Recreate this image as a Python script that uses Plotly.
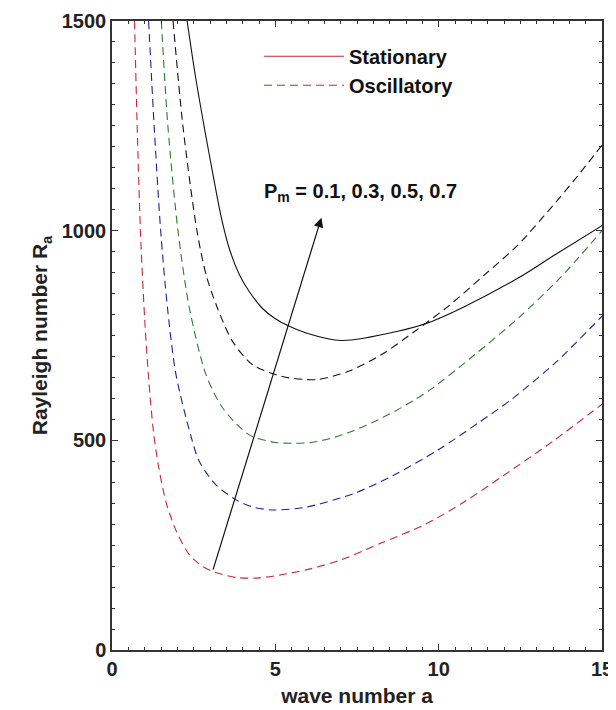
import plotly.graph_objects as go

# wave number a / Rayleigh number Ra
a_red = [0.69, 0.77, 0.87, 1.0, 1.13, 1.27, 1.42, 1.65, 1.96, 2.37, 2.78, 3.13, 3.80, 4.51, 5.22, 5.94, 7.02, 8.24, 9.57, 10.8, 12.02, 13.5, 15]
R_red = [1500, 1250, 1000, 790, 640, 520, 440, 354, 285, 227, 199, 186, 173, 172, 180, 191, 215, 255, 299, 354, 418, 498, 586]

a_blue = [1.12, 1.29, 1.49, 1.70, 1.96, 2.40, 2.67, 3.18, 3.80, 4.31, 4.92, 5.9, 7.43, 8.65, 9.98, 11.2, 12.22, 13.6, 15]
R_blue = [1500, 1250, 1000, 815, 656, 515, 450, 394, 358, 341, 334, 340, 374, 418, 477, 541, 597, 687, 796]

a_green = [1.51, 1.71, 2.02, 2.37, 2.88, 3.39, 4.20, 5.0, 5.6, 6.1, 6.71, 7.33, 8.04, 8.65, 9.27, 9.77, 11.1, 12.43, 13.7, 15]
R_green = [1500, 1250, 1000, 815, 656, 577, 513, 495, 493, 495, 505, 521, 545, 569, 597, 622, 704, 791, 886, 1000]

a_osc_black = [1.87, 2.17, 2.6, 2.88, 3.23, 3.69, 4.31, 5.22, 5.94, 6.31, 7.22, 8.24, 9.27, 10.28, 11.41, 12.43, 13.5, 14.25, 15]
R_osc_black = [1500, 1250, 1000, 895, 815, 736, 680, 652, 645, 645, 664, 704, 760, 819, 895, 966, 1060, 1130, 1204]

a_stat = [2.30, 2.55, 2.84, 3.1, 3.35, 3.6, 3.9, 4.2, 4.6, 5.0, 5.4, 5.94, 7.02, 8.75, 9.77, 10.8, 12.5, 13.55, 15]
R_stat = [1500, 1370, 1240, 1130, 1030, 955, 895, 855, 815, 790, 773, 756, 738, 760, 783, 819, 890, 942, 1012]

arrow_tail = (3.08, 188)
arrow_head = (6.41, 1031)

x_ticks = [0, 5, 10, 15]
y_ticks = [0, 500, 1000, 1500]

FONT = "Liberation Sans, Arial, sans-serif"
RED = "#c8282e"
BLUE = "#1f1f9c"
GREEN = "#2a7d2a"
BLACK = "#111111"
DASH = "8px,5px"

fig = go.Figure()

def curve(x, y, color, dash):
    fig.add_trace(go.Scatter(x=x, y=y, mode="lines", showlegend=False,
                             line=dict(color=color, width=1.1, dash=dash, shape="spline", smoothing=0.8),
                             hoverinfo="skip"))

curve(a_red, R_red, RED, DASH)
curve(a_blue, R_blue, BLUE, DASH)
curve(a_green, R_green, GREEN, DASH)
curve(a_osc_black, R_osc_black, BLACK, DASH)
curve(a_stat, R_stat, BLACK, "solid")

# legend entries
fig.add_trace(go.Scatter(x=[None], y=[None], mode="lines", name="Stationary",
                         line=dict(color=RED, width=1.1)))
fig.add_trace(go.Scatter(x=[None], y=[None], mode="lines", name="Oscillatory",
                         line=dict(color=RED, width=1.1, dash=DASH)))

fig.add_annotation(x=arrow_head[0], y=arrow_head[1], ax=arrow_tail[0], ay=arrow_tail[1],
                   xref="x", yref="y", axref="x", ayref="y", text="", showarrow=True,
                   arrowhead=2, arrowsize=1.6, arrowwidth=1.2, arrowcolor=BLACK)
fig.add_annotation(x=7.6, y=1092, xref="x", yref="y", showarrow=False,
                   text="P<sub>m</sub> = 0.1, 0.3, 0.5, 0.7",
                   font=dict(family=FONT, size=20, color=BLACK, weight="bold"))

axis_common = dict(showline=True, linecolor="#333", linewidth=1.5, mirror="allticks",
                   ticks="inside", ticklen=6, tickwidth=1, tickcolor="#333",
                   showgrid=False, zeroline=False, automargin=False,
                   tickfont=dict(family=FONT, size=20, color="#222", weight="bold"))

fig.update_xaxes(range=[0, 15], tickvals=x_ticks,
                 minor=dict(dtick=0.5, ticks="inside", ticklen=3, tickcolor="#333", showgrid=False),
                 title=dict(text="wave number a", font=dict(family=FONT, size=21, color="#222", weight="bold"), standoff=10),
                 **axis_common)
fig.update_yaxes(range=[0, 1500], tickvals=y_ticks,
                 minor=dict(dtick=50, ticks="inside", ticklen=3, tickcolor="#333", showgrid=False),
                 title=dict(text="Rayleigh number R<sub>a</sub>", font=dict(family=FONT, size=21, color="#222", weight="bold"), standoff=8),
                 **axis_common)

fig.update_layout(
    width=616, height=710,
    margin=dict(l=104, r=22, t=13, b=68),
    paper_bgcolor="white", plot_bgcolor="white",
    legend=dict(x=0.3, y=0.975, xanchor="left", yanchor="top", itemwidth=80,
                bgcolor="rgba(0,0,0,0)", font=dict(family=FONT, size=20, color="#111", weight="bold"),
                tracegroupgap=0),
)

fig.write_html("out.html")
